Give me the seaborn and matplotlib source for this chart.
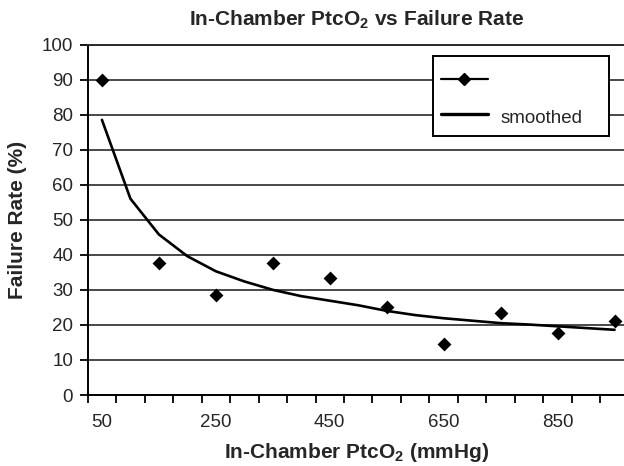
import matplotlib
matplotlib.use("Agg")
import matplotlib.pyplot as plt
import seaborn as sns
import pandas as pd
from matplotlib.lines import Line2D
from matplotlib.patches import Rectangle

# ---- data ----
obs_x = [50, 150, 250, 350, 450, 550, 650, 750, 850, 950]
obs_y = [90, 37.8, 28.6, 37.8, 33.5, 25.0, 14.5, 23.5, 17.6, 21.0]

smooth_x = [50, 100, 150, 200, 250, 300, 350, 400, 450, 500,
            550, 600, 650, 700, 750, 800, 850, 900, 950]
smooth_y = [78.5, 56.0, 45.8, 39.6, 35.3, 32.4, 30.0, 28.2, 26.9, 25.6,
            24.0, 22.8, 21.9, 21.2, 20.5, 20.1, 19.6, 19.1, 18.6]

x_tick_labels = [50, 250, 450, 650, 850]
y_ticks = list(range(0, 101, 10))

title = "In-Chamber PtcO$_\\mathbf{2}$ vs Failure Rate"
xlabel = "In-Chamber PtcO$_\\mathbf{2}$ (mmHg)"
ylabel = "Failure Rate (%)"
legend_labels = ["", "smoothed"]

# ---- style ----
sns.set_theme(style="white")
plt.rcParams["font.family"] = ["Liberation Sans", "DejaVu Sans"]
plt.rcParams["mathtext.fontset"] = "custom"
plt.rcParams["mathtext.rm"] = "Liberation Sans"
plt.rcParams["mathtext.bf"] = "Liberation Sans:bold"

W, H = 624, 466
fig = plt.figure(figsize=(W / 100, H / 100), dpi=100)
ax = fig.add_axes([87.7 / W, 1 - 395 / H, 541.1 / W, 350.5 / H])

df_obs = pd.DataFrame({"x": obs_x, "y": obs_y})
df_s = pd.DataFrame({"x": smooth_x, "y": smooth_y})

sns.lineplot(data=df_s, x="x", y="y", ax=ax, color="black", lw=1.9, zorder=3)
sns.scatterplot(data=df_obs, x="x", y="y", ax=ax, marker="D", color="black",
                s=50, edgecolor="black", linewidth=0, zorder=4)

ax.set_xlim(25, 975)
ax.set_ylim(0, 100)

# grid
ax.set_yticks(y_ticks)
ax.yaxis.grid(True, color="#2a2a2a", lw=1.2)
ax.set_axisbelow(True)

# x ticks: boundaries (marks) + labels at categories
bounds = [25 + 50 * i for i in range(20)]
ax.set_xticks(bounds)
ax.set_xticklabels([])
ax.set_xticks(x_tick_labels, minor=True)
ax.set_xticklabels([str(v) for v in x_tick_labels], minor=True)
ax.tick_params(axis="x", which="major", direction="out", length=6, width=1.3,
               color="black", bottom=True)
ax.tick_params(axis="x", which="minor", length=0, pad=14, labelsize=13.5)
ax.tick_params(axis="y", direction="out", length=5.5, width=1.3, color="black",
               left=True, pad=5, labelsize=13.5)

for side in ["left", "bottom"]:
    ax.spines[side].set_color("black")
    ax.spines[side].set_linewidth(1.4)
ax.spines["top"].set_color("#2a2a2a")
ax.spines["top"].set_linewidth(1.4)
ax.spines["right"].set_visible(False)

ax.set_xlabel("")
ax.set_ylabel("")
fig.text(356.5 / W, 1 - 20 / H, title, ha="center", va="center",
         fontsize=15, fontweight="bold")
fig.text(357 / W, 1 - 452 / H, xlabel, ha="center", va="center",
         fontsize=15, fontweight="bold")
fig.text(18 / W, 1 - 220 / H, ylabel, ha="center", va="center",
         rotation=90, fontsize=15, fontweight="bold")

# legend frame drawn as a plain box, legend entries placed inside it
frame = Rectangle((433 / W, 1 - 136 / H), 176 / W, 80 / H,
                  transform=fig.transFigure, facecolor="white",
                  edgecolor="black", linewidth=1.4, zorder=4)
fig.patches.append(frame)

handles = [
    Line2D([], [], color="black", lw=1.6, marker="D", markersize=6),
    Line2D([], [], color="black", lw=2.4),
]
leg = fig.legend(handles, legend_labels, loc="upper left",
                 bbox_to_anchor=(441 / W, 1 - 70.5 / H),
                 frameon=False, fontsize=13.5, handlelength=2.5,
                 handletextpad=0.65, handleheight=1.4, labelspacing=0.72,
                 borderpad=0, borderaxespad=0)
leg.set_zorder(5)

fig.savefig("out.png", dpi=100)
